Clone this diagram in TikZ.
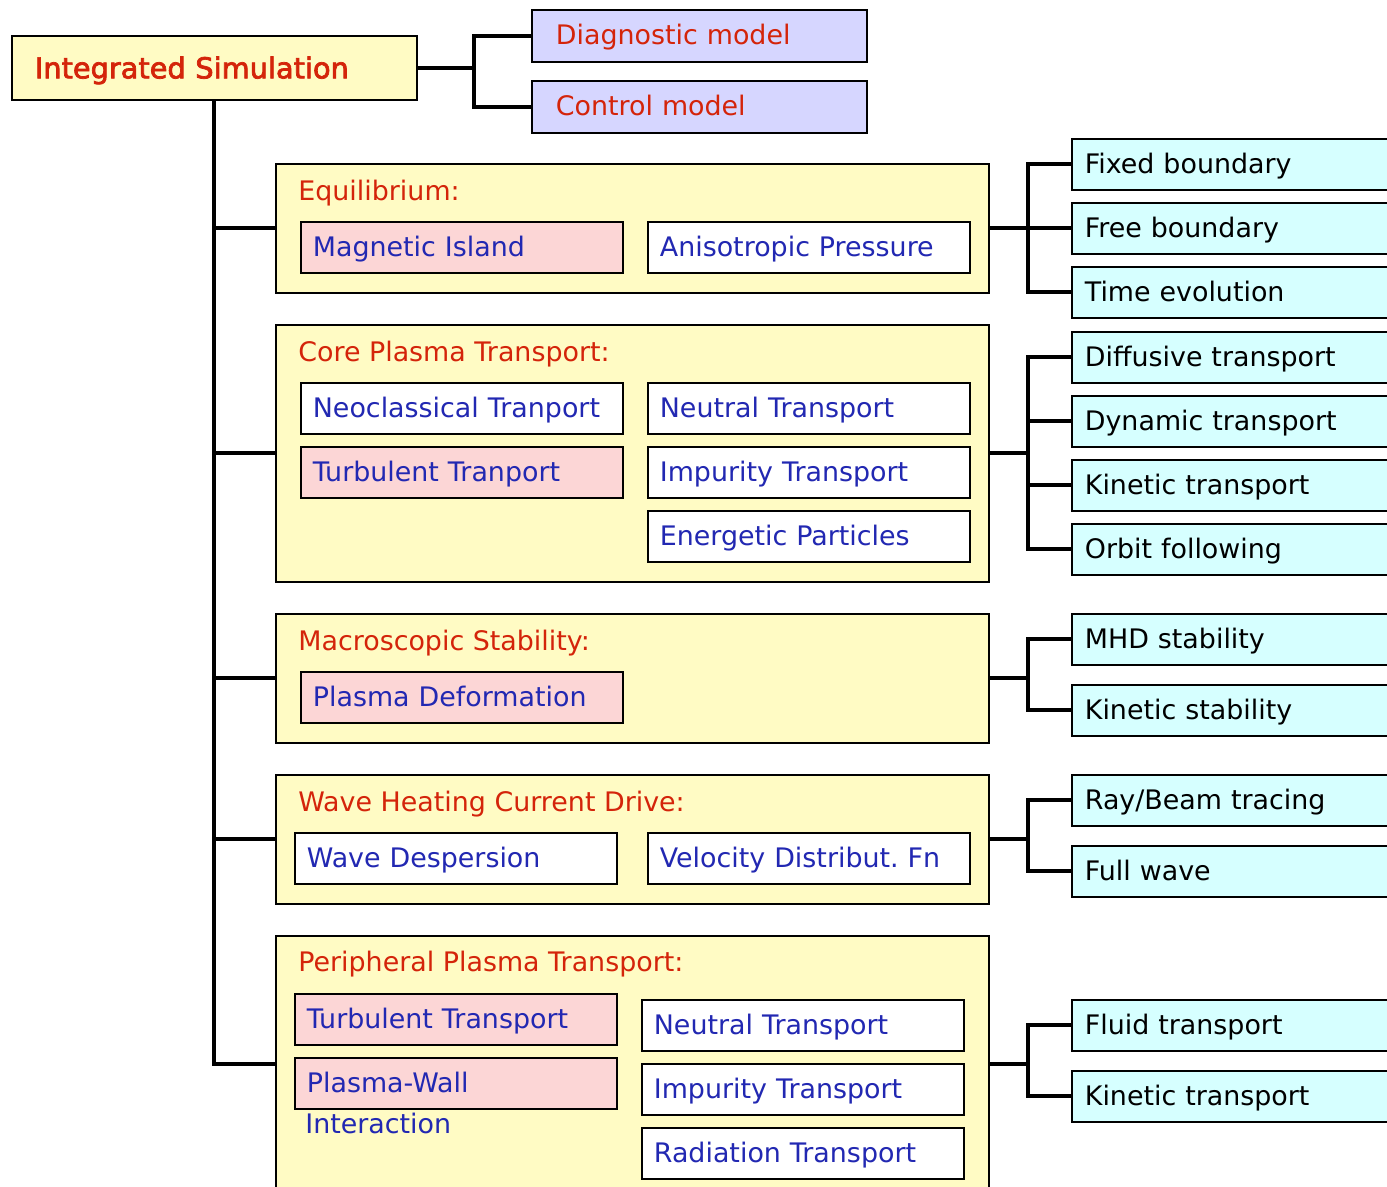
\documentclass[tikz,border=0pt]{standalone}
\usepackage{fontspec}
\setmainfont{DejaVu Sans}
\newfontfamily\isfont[FakeBold=2.5]{DejaVu Sans}
\usetikzlibrary{positioning}
\definecolor{isyellow}{RGB}{255,251,196}
\definecolor{modlilac}{RGB}{214,214,255}
\definecolor{subpink}{RGB}{252,214,214}
\definecolor{mthcyan}{RGB}{214,255,255}
\definecolor{txtred}{RGB}{212,36,10}
\definecolor{txtblue}{RGB}{34,40,178}
\tikzset{
  basebox/.style={draw, line width=1pt, anchor=north west, align=left, text height=0.36cm, text depth=0pt, font=\fontsize{15.3}{18}\selectfont},
  isbox/.style={basebox, fill=isyellow, text=txtred, minimum width=8.1cm, minimum height=1.28cm, inner xsep=0.46cm, text width=7.18cm, text height=0.42cm, font=\fontsize{16.4}{19}\isfont},
  modbox/.style={basebox, fill=modlilac, text=txtred, minimum width=6.7cm, minimum height=1.04cm, inner xsep=0.48cm, text width=5.74cm},
  grpbox/.style={draw, line width=1pt, fill=isyellow, anchor=north west, minimum width=14.26cm, inner sep=0pt},
  grptitle/.style={anchor=base west, inner sep=0pt, text=txtred, font=\fontsize{15.3}{18}\selectfont},
  subbox/.style={basebox, fill=white, text=txtblue, minimum width=6.44cm, minimum height=1.02cm, inner xsep=0.24cm, text width=5.96cm},
  subhot/.style={subbox, fill=subpink},
  mthbox/.style={basebox, fill=mthcyan, text=black, minimum width=7cm, minimum height=1.02cm, inner xsep=0.26cm, text width=6.48cm},
  link/.style={line width=2.2pt},
}
\begin{document}
\begin{tikzpicture}[x=0.02cm, y=-0.02cm]
\useasboundingbox (0,0) rectangle (1387,1187);
\clip (0,0) rectangle (1387,1187);
% top level
\node[isbox] (intsim) at (11,35) {Integrated Simulation};
\node[modbox] (diag) at (531,9) {Diagnostic model};
\node[modbox] (ctrl) at (531,80) {Control model};
% groups
\node[grpbox, minimum height=2.58cm] (equil) at (275,163) {};
\node[grpbox, minimum height=5.14cm] (core) at (275,324) {};
\node[grpbox, minimum height=2.58cm] (macro) at (275,613) {};
\node[grpbox, minimum height=2.58cm] (wave) at (275,774) {};
\node[grpbox, minimum height=5.12cm] (peri) at (275,935) {};
\node[grptitle] (equilt) at (298,200) {Equilibrium:};
\node[grptitle] (coret) at (298,361) {Core Plasma Transport:};
\node[grptitle] (macrot) at (298,650) {Macroscopic Stability:};
\node[grptitle] (wavet) at (298,811) {Wave Heating Current Drive:};
\node[grptitle] (perit) at (298,971) {Peripheral Plasma Transport:};
% sub models
\node[subhot] (magisl) at (300,221) {Magnetic Island};
\node[subbox] (anipr) at (647,221) {Anisotropic Pressure};
\node[subbox] (neocl) at (300,382) {Neoclassical Tranport};
\node[subbox] (neutc) at (647,382) {Neutral Transport};
\node[subhot] (turbc) at (300,446) {Turbulent Tranport};
\node[subbox] (impc) at (647,446) {Impurity Transport};
\node[subbox] (energ) at (647,510) {Energetic Particles};
\node[subhot] (pldef) at (300,671) {Plasma Deformation};
\node[subbox] (wdisp) at (294,832) {Wave Despersion};
\node[subbox] (veldf) at (647,832) {Velocity Distribut.\ Fn};
\node[subhot] (turbp) at (294,993) {Turbulent Transport};
\node[subhot] (plwall) at (294,1057) {Plasma-Wall};
\node[anchor=base west, inner sep=0pt, text=txtblue, font=\fontsize{15.3}{18}\selectfont] (plwallb) at (305,1133) {Interaction};
\node[subbox] (neutp) at (641,999) {Neutral Transport};
\node[subbox] (impp) at (641,1063) {Impurity Transport};
\node[subbox] (radp) at (641,1127) {Radiation Transport};
% methods
\node[mthbox] (fixb) at (1071,138) {Fixed boundary};
\node[mthbox] (freeb) at (1071,202) {Free boundary};
\node[mthbox] (timev) at (1071,266) {Time evolution};
\node[mthbox] (diffu) at (1071,331) {Diffusive transport};
\node[mthbox] (dynam) at (1071,395) {Dynamic transport};
\node[mthbox] (kintra) at (1071,459) {Kinetic transport};
\node[mthbox] (orbit) at (1071,523) {Orbit following};
\node[mthbox] (mhd) at (1071,613) {MHD stability};
\node[mthbox] (kinstab) at (1071,684) {Kinetic stability};
\node[mthbox] (raybeam) at (1071,774) {Ray/Beam tracing};
\node[mthbox] (fullw) at (1071,845) {Full wave};
\node[mthbox] (fluid) at (1071,999) {Fluid transport};
\node[mthbox] (kinper) at (1071,1070) {Kinetic transport};
% connectors
\coordinate (topj) at (474,0);
\coordinate (rjx) at (1028,0);
\draw[link] (intsim.east) -- (intsim.east -| topj);
\draw[link] (diag.west) -| (topj |- ctrl.west) -- (ctrl.west);
\draw[link] (intsim.south) -- (intsim.south |- peri.west) -- (peri.west);
\foreach \g in {equil, core, macro, wave}
  \draw[link] (intsim.south |- \g.west) -- (\g.west);
\foreach \g/\f/\l in {equil/fixb/timev, core/diffu/orbit, macro/mhd/kinstab, wave/raybeam/fullw, peri/fluid/kinper}{
  \draw[link] (\g.east) -- (rjx |- \g.east);
  \draw[link] (\f.west) -| (rjx |- \l.west) -- (\l.west);
}
\foreach \m in {freeb, dynam, kintra}
  \draw[link] (rjx |- \m.west) -- (\m.west);
\end{tikzpicture}
\end{document}
